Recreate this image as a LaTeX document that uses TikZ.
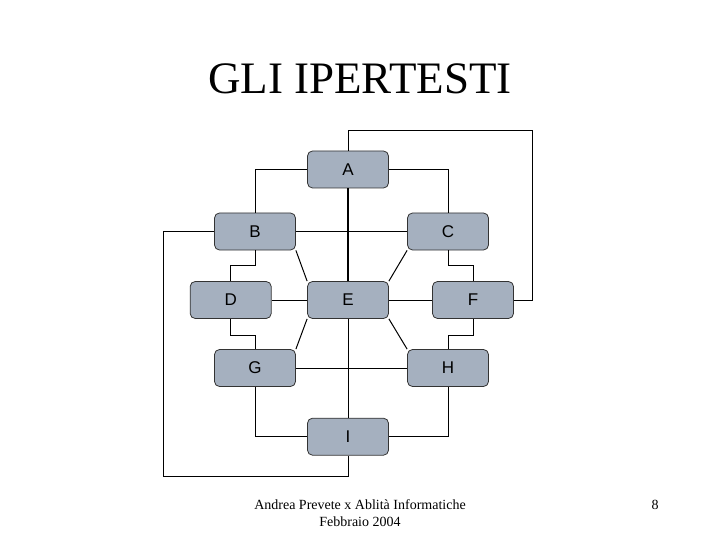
\documentclass[tikz,border=0pt]{standalone}
\usepackage{fontspec}
\setmainfont{Liberation Serif}
\newfontfamily\boxfont{Liberation Sans}
\definecolor{boxfill}{RGB}{165,176,191}
\begin{document}
\begin{tikzpicture}[x=1pt,y=-1pt,
  card/.style={draw=black!80, fill=boxfill, rounded corners=5pt, minimum width=81pt, minimum height=37pt, inner sep=0pt, line width=0.8pt, font=\boxfont\fontsize{17}{19}\selectfont},
  link/.style={line width=1pt, black},
  thicklink/.style={line width=2.2pt, black}]
\useasboundingbox (0,0) rectangle (720,540);
\node[anchor=base, font=\fontsize{45}{48}\selectfont] (title) at (360,94) {GLI IPERTESTI};
\node[card] (A) at (348,169.5) {A};
\node[card] (B) at (255,231.5) {B};
\node[card] (C) at (448,231.5) {C};
\node[card] (D) at (230.7,300) {D};
\node[card] (E) at (348,300) {E};
\node[card] (F) at (473,300) {F};
\node[card] (G) at (255,368) {G};
\node[card] (H) at (448,368) {H};
\node[card] (I) at (348,436.7) {I};
\coordinate (ftop) at (532,131);
\coordinate (bl) at (163,476);
\draw[link] (A.north) |- (ftop) |- (F.east);
\draw[link] (A.west) -| (B.north);
\draw[link] (A.east) -| (C.north);
\draw[thicklink] (A.south) -- (E.north);
\draw[link] (B.west) -| (bl) -| (I.south);
\draw[link] (B.east) -- (C.west);
\draw[link] (B.south) -- ++(0,15) -| (D.north);
\draw[link] (C.south) -- ++(0,15) -| (F.north);
\draw[link] (B.south east) -- (E.north west);
\draw[link] (C.south west) -- (E.north east);
\draw[link] (D.east) -- (E.west);
\draw[link] (E.east) -- (F.west);
\draw[link] (D.south) -- ++(0,17) -| (G.north);
\draw[link] (F.south) -- ++(0,17) -| (H.north);
\draw[link] (E.south west) -- (G.north east);
\draw[link] (E.south east) -- (H.north west);
\draw[link] (E.south) -- (I.north);
\draw[link] (G.east) -- (H.west);
\draw[link] (G.south) |- (I.west);
\draw[link] (H.south) |- (I.east);
\node[anchor=base, font=\fontsize{14}{16}\selectfont] (foot1) at (360,509) {Andrea Prevete x Ablità Informatiche};
\node[anchor=base, font=\fontsize{14}{16}\selectfont] (foot2) at (360,526) {Febbraio 2004};
\node[anchor=base, font=\fontsize{14}{16}\selectfont] (page) at (655,509) {8};
\end{tikzpicture}
\end{document}
